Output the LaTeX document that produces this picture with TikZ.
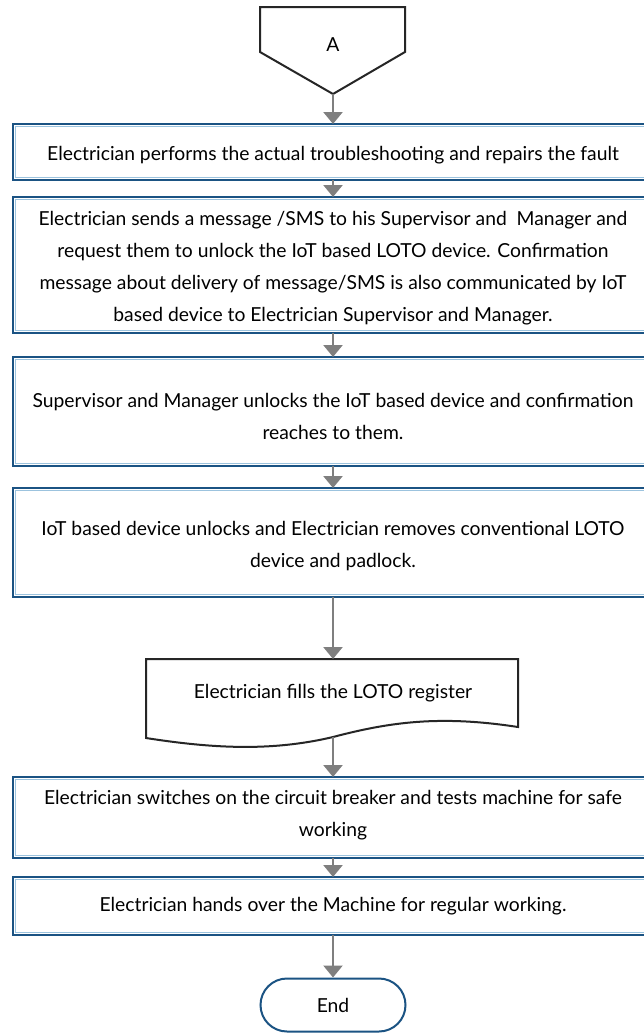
\documentclass[tikz,border=0pt]{standalone}
\usepackage{fontspec}
\setmainfont{Lato}
\usetikzlibrary{arrows.meta,shapes.misc}
\definecolor{boxblue}{HTML}{1B5383}
\definecolor{lightblue}{HTML}{9CC3DE}
\definecolor{arrgray}{HTML}{7F7F7F}
\definecolor{outl}{HTML}{262626}
\tikzset{
  txt/.style={align=center, font=\fontsize{19.3}{32}\selectfont, text=black, inner sep=0pt},
  flow/.style={draw=arrgray, line width=2.4pt, -{Triangle[length=12pt,width=19pt]}},
  outline/.style={draw=outl, line width=2pt},
}
\begin{document}
\begin{tikzpicture}[x=1pt,y=-1pt]
\useasboundingbox (0,0) rectangle (644,1034);
\fill[white] (0,0) rectangle (644,1034);
% off-page connector A
\draw[outline, fill=white] (260,7) -- (405,7) -- (405,52) -- (333,94) -- (260,52) -- cycle;
\coordinate (Abot) at (333,94);
\node[txt] (A) at (333,45) {A};
% boxes
\def\pbox#1#2#3{%
  \draw[boxblue, line width=1.8pt] (13,#2) rectangle (653,#3);
  \draw[lightblue, line width=0.6pt] (15.5,#2+2.5) rectangle (653,#3-2.5);
  \coordinate (#1top) at (333,#2);
  \coordinate (#1bot) at (333,#3);
}
\pbox{b1}{124}{180}
\node[txt] (t1) at (333,155) {Electrician performs the actual troubleshooting and repairs the fault};
\pbox{b2}{197}{333}
\node[txt] (t2) at (333,268) {Electrician sends a message /SMS to his Supervisor and\ \ Manager and\\
request them to unlock the IoT based LOTO device. Confirmation\\
message about delivery of message/SMS is also communicated by IoT\\
based device to Electrician Supervisor and Manager.};
\pbox{b3}{357}{466}
\node[txt] (t3) at (333,416) {Supervisor and Manager unlocks the IoT based device and confirmation\\reaches to them.};
\pbox{b4}{488}{597}
\node[txt] (t4) at (333,546) {IoT based device unlocks and Electrician removes conventional LOTO\\device and padlock.};
% document shape
\draw[outline, fill=white] (146,659) -- (518,659) -- (518,727)
   .. controls (440,715) and (390,722) .. (333,737)
   .. controls (270,752) and (210,748) .. (146,738) -- cycle;
\coordinate (doctop) at (333,659);
\coordinate (docbot) at (333,737);
\node[txt] (t5) at (333,693) {Electrician fills the LOTO register};
\pbox{b5}{777}{858}
\node[txt] (t6) at (333,815) {Electrician switches on the circuit breaker and tests machine for safe\\working};
\pbox{b6}{877}{935}
\node[txt] (t7) at (333,906) {Electrician hands over the Machine for regular working.};
% terminator
\node[draw=boxblue, line width=2pt, rounded rectangle, minimum width=145pt, minimum height=53pt, fill=white, font=\fontsize{19.3}{22}\selectfont, inner sep=0pt] (end) at (333,1005) {End};
% arrows
\draw[flow] (Abot) -- (b1top);
\draw[flow] (b1bot) -- (b2top);
\draw[flow] (b2bot) -- (b3top);
\draw[flow] (b3bot) -- (b4top);
\draw[flow] (b4bot) -- (doctop);
\draw[flow] (docbot) -- (b5top);
\draw[flow] (b5bot) -- (b6top);
\draw[flow] (b6bot) -- (end.north);
\end{tikzpicture}
\end{document}
